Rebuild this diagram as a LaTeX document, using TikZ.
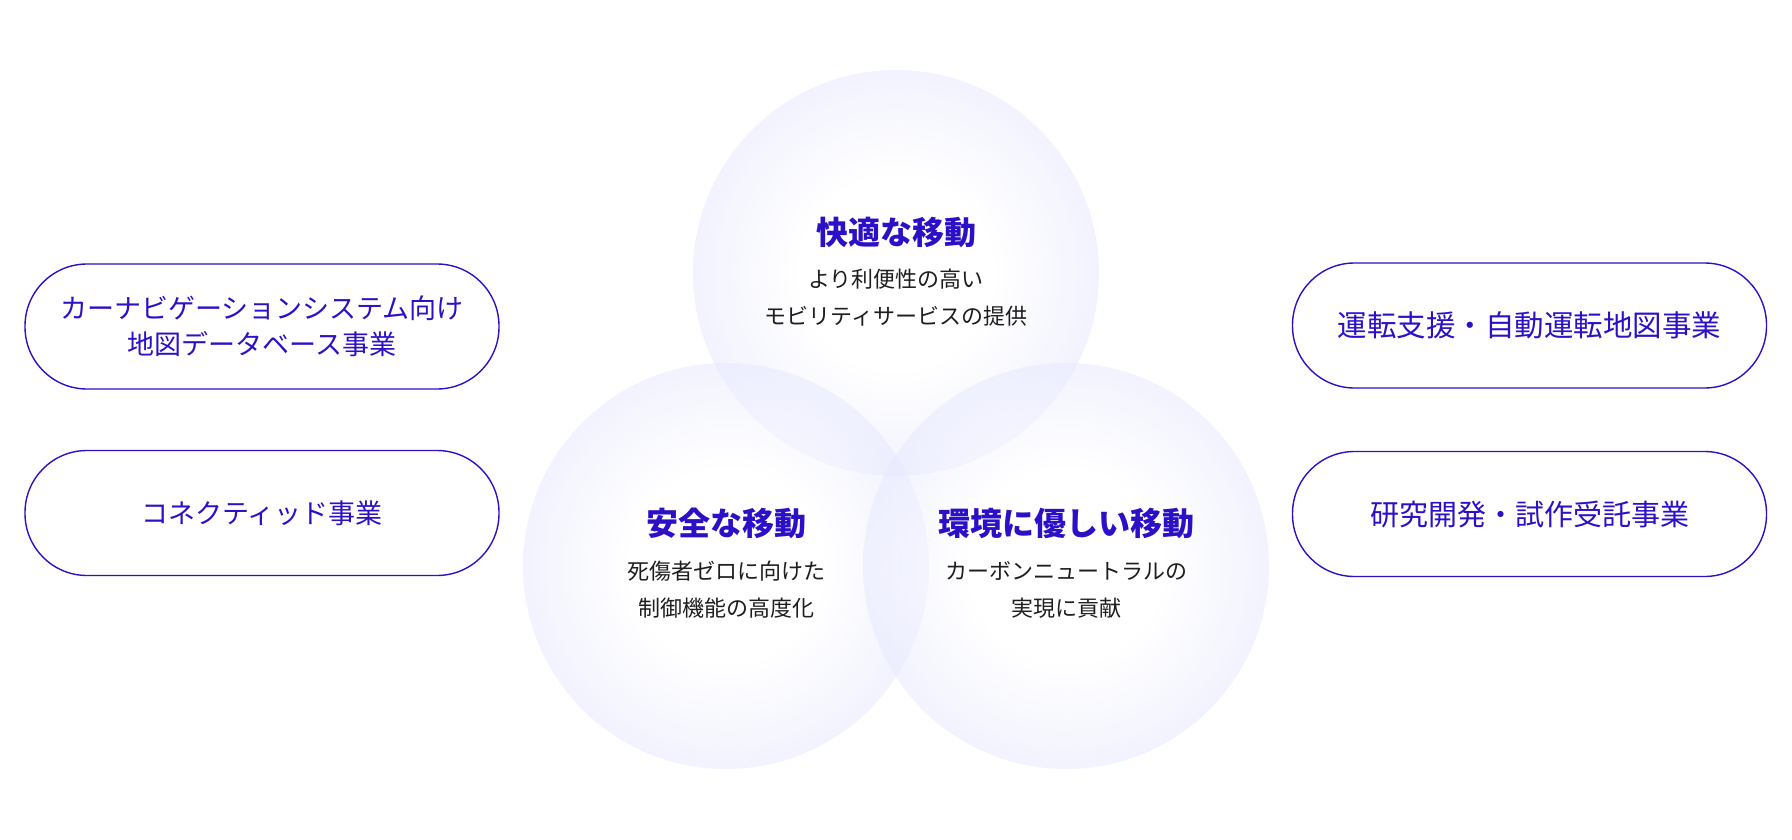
\documentclass[tikz,border=0pt]{standalone}
\usepackage{fontspec}
\usetikzlibrary{positioning}
\newfontfamily\jpfont{Noto Sans CJK JP}
\definecolor{mobblue}{RGB}{43, 16, 200}
\definecolor{mobtext}{RGB}{30, 30, 30}
\pgfdeclareradialshading{softglow}{\pgfpoint{0bp}{0bp}}{rgb(0bp)=(1,1,1); rgb(12bp)=(1,1,1); rgb(35bp)=(0.83,0.845,0.99); rgb(50bp)=(0.83,0.845,0.99)}

\begin{document}
\begin{tikzpicture}[x=1pt, y=-1pt,
    glow/.style={circle, inner sep=0pt, minimum size=406pt, shading=softglow, fill opacity=0.55},
    pill/.style={draw=mobblue, line width=1.4pt, rounded corners=62pt, minimum width=474pt, minimum height=125pt, text=mobblue, align=center},
    title/.style={text=mobblue, font=\jpfont\bfseries\fontsize{32}{38}\selectfont},
    sub/.style={text=mobtext, align=center, font=\jpfont\fontsize{22}{37}\selectfont}]
    \useasboundingbox (0,0) rectangle (1792,840);
    % three circles
    \node (comfort) at (896,273) [glow] {};
    \node (safe) at (726,566) [glow] {};
    \node (eco) at (1066,566) [glow] {};
    \node (comforttitle) at (896,232) [title] {快適な移動};
    \node (comfortsub) at (896,298) [sub] {より利便性の高い\\モビリティサービスの提供};
    \node (safetitle) at (726,523) [title] {安全な移動};
    \node (safesub) at (726,590) [sub] {死傷者ゼロに向けた\\制御機能の高度化};
    \node (ecotitle) at (1066,523) [title] {環境に優しい移動};
    \node (ecosub) at (1066,590) [sub] {カーボンニュートラルの\\実現に貢献};
    % business pills
    \node (navi) at (262,326.5) [pill, font=\jpfont\fontsize{27}{36}\selectfont] {カーナビゲーションシステム向け\\地図データベース事業};
    \node (connected) at (262,513) [pill, font=\jpfont\fontsize{27}{36}\selectfont] {コネクティッド事業};
    \node (adas) at (1529.5,325.5) [pill, font=\jpfont\fontsize{29.5}{36}\selectfont] {運転支援・自動運転地図事業};
    \node (rnd) at (1529.5,514) [pill, font=\jpfont\fontsize{29}{36}\selectfont] {研究開発・試作受託事業};
\end{tikzpicture}
\end{document}
